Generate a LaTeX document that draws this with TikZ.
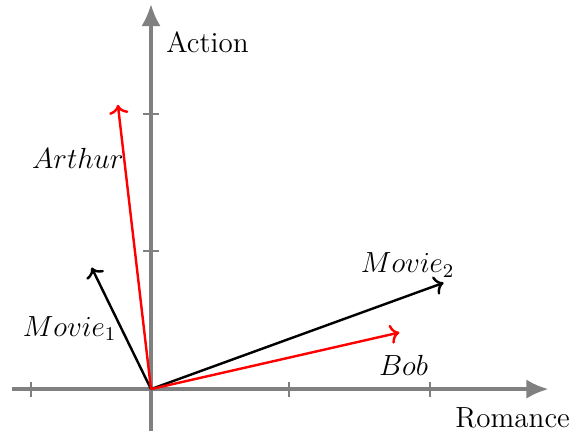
\documentclass[tikz,border=0pt]{standalone}
\usepackage{amsmath,amssymb}
\usepackage{xcolor}
\usepackage{tikz}
\usetikzlibrary{positioning,arrows.meta}

\begin{document}
\begin{tikzpicture}[
  x=2cm, y=2cm,
  font=\large,
  axis/.style={draw=gray, line width=1.5pt, -{Latex[length=3.2mm,width=2.8mm]}},
  tick/.style={draw=gray, line width=0.8pt},
  vec/.style={->, line width=1pt, draw=black},
  user/.style={->, line width=1pt, draw=red}
]
\useasboundingbox (-1.094,-0.312) rectangle (3.043,2.819);

\coordinate (O)     at (0,0);
\coordinate (xmin)  at (-1.01,0);
\coordinate (xmax)  at (2.88,0);
\coordinate (ymin)  at (0,-0.30);
\coordinate (ymax)  at (0,2.79);

\foreach \x in {-0.87,1,2.02}
  \draw[tick] (\x,-0.055) -- (\x,0.055);
\foreach \y in {1,1.99}
  \draw[tick] (-0.055,\y) -- (0.055,\y);

\draw[axis] (xmin) -- (xmax);
\draw[axis] (ymin) -- (ymax);

\node (action)  at (0.41,2.51)  {Action};
\node (romance) at (2.62,-0.21) {Romance};

% vectors
\coordinate (arthur) at (-0.24,2.06);
\coordinate (bob)    at (1.80,0.41);
\coordinate (mv1)    at (-0.43,0.88);
\coordinate (mv2)    at (2.12,0.77);

\draw[vec]  (O) -- (mv1);
\draw[vec]  (O) -- (mv2);
\draw[user] (O) -- (arthur);
\draw[user] (O) -- (bob);

\node (larthur) at (-0.53,1.67) {$Arthur$};
\node (lmv1)    at (-0.59,0.44) {$Movie_1$};
\node (lmv2)    at (1.86,0.90)  {$Movie_2$};
\node (lbob)    at (1.83,0.17)  {$Bob$};
\end{tikzpicture}
\end{document}
